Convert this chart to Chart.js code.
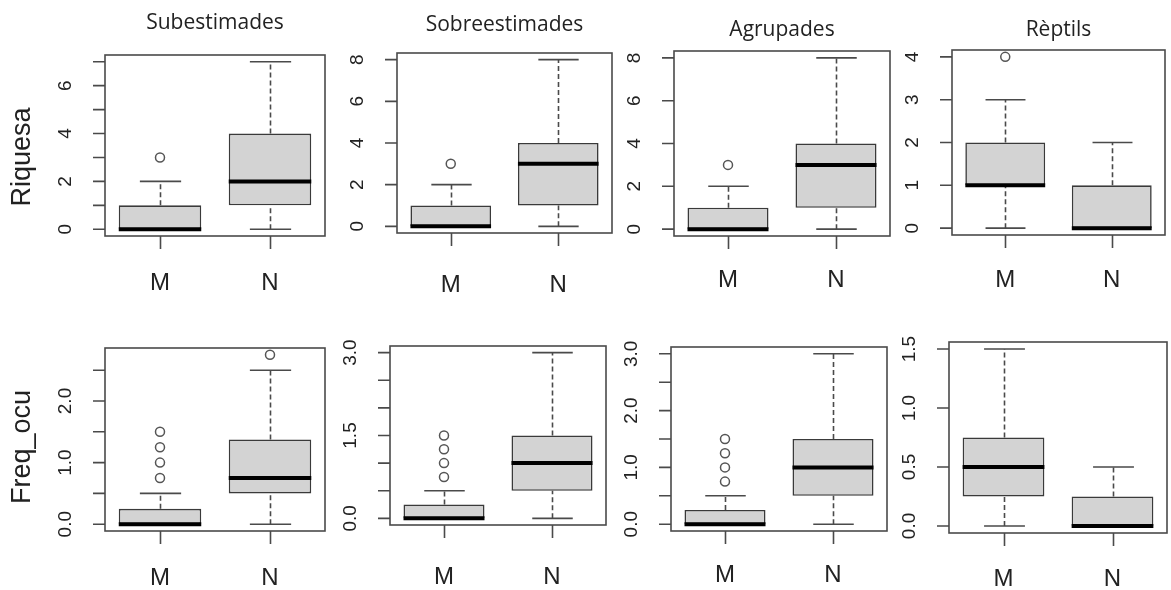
<!DOCTYPE html>
<html><head><meta charset="utf-8">
<script src="https://cdn.jsdelivr.net/npm/chart.js@4"></script>
<style>
html,body{margin:0;padding:0;background:#fff;}
#wrap{position:relative;width:1171px;height:590px;overflow:hidden;}
canvas{position:absolute;left:0;top:0;}
</style></head><body><div id="wrap"></div>
<script>
const categories = ['M','N'];
const columnTitles = ['Subestimades','Sobreestimades','Agrupades','Rèptils'];
const rowTitles = ['Riquesa','Freq_ocu'];

// five-number summaries: [lower whisker, Q1, median, Q3, upper whisker]
const riqSubM = [0, 0, 0, 1, 2],        riqSubN = [0, 1, 2, 4, 7];
const riqSobM = [0, 0, 0, 1, 2],        riqSobN = [0, 1, 3, 4, 8];
const riqAgrM = [0, 0, 0, 1, 2],        riqAgrN = [0, 1, 3, 4, 8];
const riqRepM = [0, 1, 1, 2, 3],        riqRepN = [0, 0, 0, 1, 2];
const freqSubM = [0, 0, 0, 0.25, 0.5],  freqSubN = [0, 0.5, 0.75, 1.375, 2.5];
const freqSobM = [0, 0, 0, 0.25, 0.5],  freqSobN = [0, 0.5, 1, 1.5, 3];
const freqAgrM = [0, 0, 0, 0.25, 0.5],  freqAgrN = [0, 0.5, 1, 1.5, 3];
const freqRepM = [0, 0.25, 0.5, 0.75, 1.5], freqRepN = [0, 0, 0, 0.25, 0.5];

// outliers
const riqSubOutM = [3], riqSubOutN = [];
const riqSobOutM = [3], riqSobOutN = [];
const riqAgrOutM = [3], riqAgrOutN = [];
const riqRepOutM = [4], riqRepOutN = [];
const freqSubOutM = [0.75, 1, 1.25, 1.5], freqSubOutN = [2.75];
const freqSobOutM = [0.75, 1, 1.25, 1.5], freqSobOutN = [];
const freqAgrOutM = [0.75, 1, 1.25, 1.5], freqAgrOutN = [];
const freqRepOutM = [], freqRepOutN = [];

// y-axis tick marks and labelled ticks
const ticksRiqSub = [0,1,2,3,4,5,6,7],      labelsRiqSub = [0,2,4,6];
const ticksRiqSob = [0,2,4,6,8],            labelsRiqSob = [0,2,4,6,8];
const ticksRiqAgr = [0,2,4,6,8],            labelsRiqAgr = [0,2,4,6,8];
const ticksRiqRep = [0,1,2,3,4],            labelsRiqRep = [0,1,2,3,4];
const ticksFreqSub = [0,0.5,1,1.5,2,2.5],   labelsFreqSub = [0,1,2];
const ticksFreqSob = [0,0.5,1,1.5,2,2.5,3], labelsFreqSob = [0,1.5,3];
const ticksFreqAgr = [0,0.5,1,1.5,2,2.5,3], labelsFreqAgr = [0,1,2,3];
const ticksFreqRep = [0,0.5,1,1.5],         labelsFreqRep = [0,0.5,1,1.5];

const panels = [
  {M:riqSubM, N:riqSubN, oM:riqSubOutM, oN:riqSubOutN, t:ticksRiqSub, l:labelsRiqSub, dec:0},
  {M:riqSobM, N:riqSobN, oM:riqSobOutM, oN:riqSobOutN, t:ticksRiqSob, l:labelsRiqSob, dec:0},
  {M:riqAgrM, N:riqAgrN, oM:riqAgrOutM, oN:riqAgrOutN, t:ticksRiqAgr, l:labelsRiqAgr, dec:0},
  {M:riqRepM, N:riqRepN, oM:riqRepOutM, oN:riqRepOutN, t:ticksRiqRep, l:labelsRiqRep, dec:0},
  {M:freqSubM, N:freqSubN, oM:freqSubOutM, oN:freqSubOutN, t:ticksFreqSub, l:labelsFreqSub, dec:1},
  {M:freqSobM, N:freqSobN, oM:freqSobOutM, oN:freqSobOutN, t:ticksFreqSob, l:labelsFreqSob, dec:1},
  {M:freqAgrM, N:freqAgrN, oM:freqAgrOutM, oN:freqAgrOutN, t:ticksFreqAgr, l:labelsFreqAgr, dec:1},
  {M:freqRepM, N:freqRepN, oM:freqRepOutM, oN:freqRepOutN, t:ticksFreqRep, l:labelsFreqRep, dec:1}
];

// layout: plot box [left, top, right, bottom], title y, category label offset
const layout = [
  {box:[105,55,325,236], titleY:23, labY:47, rowTitleY:157},
  {box:[397,53,612,233], titleY:25, labY:52},
  {box:[674,51,890,236], titleY:30, labY:44},
  {box:[952,50,1169,235], titleY:30, labY:45},
  {box:[105,348,325,531], labY:47, rowTitleY:447},
  {box:[390,346,606,525], labY:52},
  {box:[671,347,887,531], labY:44},
  {box:[949,342,1167,533], labY:46}
];

const W = 1171, H = 590;
const FRAME = '#4a4a4a';
const BOX_DS = 1;

const rPlugin = {
  id: 'rbox',
  beforeDatasetsDraw(chart) {
    const o = chart.options.plugins.rbox;
    const ctx = chart.ctx, ys = chart.scales.y;
    const meta = chart.getDatasetMeta(BOX_DS);
    [o.p.M, o.p.N].forEach((s, i) => {
      const bar = meta.data[i];
      const x = Math.round(bar.x) + 0.5, hw = bar.width / 4;
      ctx.save();
      ctx.strokeStyle = FRAME; ctx.lineWidth = 1.6;
      ctx.setLineDash([5, 3]);
      ctx.beginPath();
      if (s[1] > s[0]) { ctx.moveTo(x, ys.getPixelForValue(s[0])); ctx.lineTo(x, ys.getPixelForValue(s[1])); }
      if (s[4] > s[3]) { ctx.moveTo(x, ys.getPixelForValue(s[3])); ctx.lineTo(x, ys.getPixelForValue(s[4])); }
      ctx.stroke();
      ctx.setLineDash([]);
      ctx.beginPath();
      [s[0], s[4]].forEach(v => {
        const py = ys.getPixelForValue(v);
        ctx.moveTo(x - hw, py); ctx.lineTo(x + hw, py);
      });
      ctx.stroke();
      ctx.restore();
    });
  },
  afterDatasetsDraw(chart) {
    const o = chart.options.plugins.rbox;
    const ctx = chart.ctx, ys = chart.scales.y;
    const meta = chart.getDatasetMeta(BOX_DS);
    [o.p.M, o.p.N].forEach((s, i) => {
      const bar = meta.data[i];
      const py = ys.getPixelForValue(s[2]);
      ctx.save();
      ctx.strokeStyle = '#000'; ctx.lineWidth = 4;
      ctx.beginPath();
      ctx.moveTo(bar.x - bar.width / 2, py); ctx.lineTo(bar.x + bar.width / 2, py);
      ctx.stroke();
      ctx.restore();
    });
  },
  afterDraw(chart) {
    const o = chart.options.plugins.rbox;
    const ctx = chart.ctx, ys = chart.scales.y, a = chart.chartArea;
    const meta = chart.getDatasetMeta(BOX_DS);
    ctx.save();
    ctx.strokeStyle = FRAME; ctx.lineWidth = 1.6;
    ctx.strokeRect(a.left, a.top, a.right - a.left, a.bottom - a.top);
    ctx.beginPath();
    o.p.t.forEach(v => {
      const py = ys.getPixelForValue(v);
      ctx.moveTo(a.left - 12, py); ctx.lineTo(a.left, py);
    });
    meta.data.forEach(bar => {
      const x = Math.round(bar.x) + 0.5;
      ctx.moveTo(x, a.bottom); ctx.lineTo(x, a.bottom + 13);
    });
    ctx.stroke();
    ctx.fillStyle = '#222';
    ctx.font = '19px "Liberation Sans", Arial, sans-serif';
    ctx.textAlign = 'center'; ctx.textBaseline = 'middle';
    o.p.l.forEach(v => {
      const py = ys.getPixelForValue(v);
      ctx.save();
      ctx.translate(a.left - 40, py);
      ctx.rotate(-Math.PI / 2);
      ctx.fillText(v.toFixed(o.p.dec), 0, 1);
      ctx.restore();
    });
    ctx.font = '24px "Liberation Sans", Arial, sans-serif';
    ctx.fillStyle = '#222';
    meta.data.forEach((bar, i) => {
      ctx.fillText(categories[i], bar.x, a.bottom + o.L.labY);
    });
    if (o.title) {
      ctx.font = '21px "Open Sans", sans-serif';
      ctx.fillStyle = '#222';
      ctx.fillText(o.title, (a.left + a.right) / 2, o.L.titleY);
    }
    if (o.rowTitle) {
      ctx.font = '27px "Liberation Sans", Arial, sans-serif';
      ctx.fillStyle = '#222';
      ctx.save();
      ctx.translate(23, o.L.rowTitleY);
      ctx.rotate(-Math.PI / 2);
      ctx.fillText(o.rowTitle, 0, 0);
      ctx.restore();
    }
    ctx.restore();
  }
};

const wrap = document.getElementById('wrap');
panels.forEach((p, k) => {
  const L = layout[k];
  const cv = document.createElement('canvas');
  cv.width = W; cv.height = H;
  cv.style.width = W + 'px'; cv.style.height = H + 'px';
  wrap.appendChild(cv);
  const all = p.M.concat(p.N, p.oM, p.oN);
  const lo = Math.min(...all), hi = Math.max(...all), pad = (hi - lo) * 0.04;
  const outliers = p.oM.map(v => ({x: 'M', y: v})).concat(p.oN.map(v => ({x: 'N', y: v})));
  new Chart(cv, {
    type: 'bar',
    data: {
      labels: categories,
      datasets: [
        {
          type: 'line', data: outliers, showLine: false,
          pointRadius: 4.5, pointStyle: 'circle',
          pointBackgroundColor: '#fff', pointBorderColor: '#555', pointBorderWidth: 1.5,
          clip: false
        },
        {
          data: [[p.M[1], p.M[3]], [p.N[1], p.N[3]]],
          backgroundColor: '#d3d3d3', borderColor: '#3a3a3a', borderWidth: 1.6,
          borderSkipped: false, barPercentage: 0.75, categoryPercentage: 1
        }
      ]
    },
    options: {
      responsive: false, animation: false, events: [],
      layout: {padding: {left: L.box[0], top: L.box[1], right: W - L.box[2], bottom: H - L.box[3]}},
      scales: {
        x: {type: 'category', offset: true, display: false},
        y: {type: 'linear', min: lo - pad, max: hi + pad, display: false}
      },
      plugins: {
        legend: {display: false}, tooltip: {enabled: false},
        rbox: {p: p, L: L, title: k < 4 ? columnTitles[k] : null,
               rowTitle: k === 0 ? rowTitles[0] : (k === 4 ? rowTitles[1] : null)}
      }
    },
    plugins: [rPlugin]
  });
});
</script>
</body></html>
